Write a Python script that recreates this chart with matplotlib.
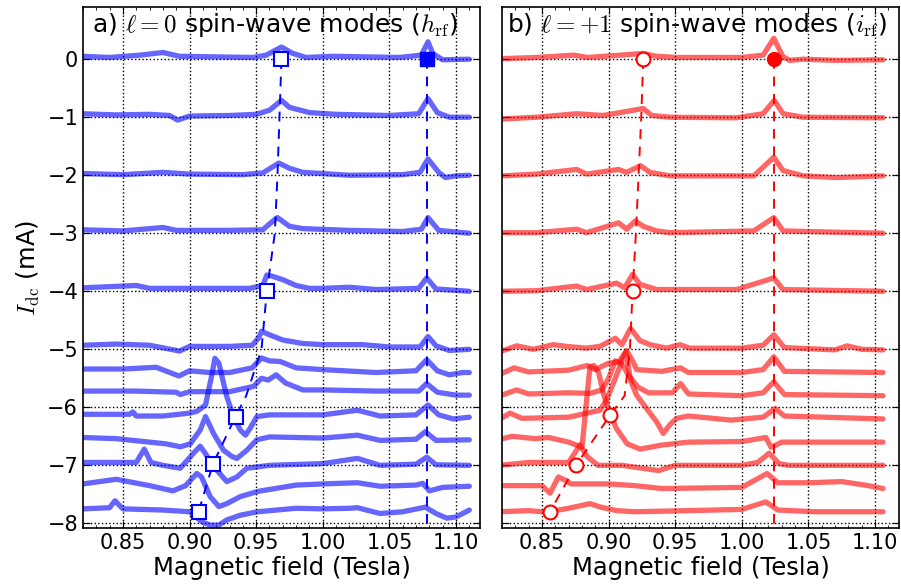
import matplotlib
matplotlib.use("Agg")
import matplotlib.pyplot as plt
from matplotlib.ticker import MultipleLocator

plt.rcParams['mathtext.fontset'] = 'cm'
plt.rcParams['font.family'] = 'DejaVu Sans'

# Idc offsets of the stacked traces (mA)
idc_levels = [0, -1, -2, -3, -4, -5, -5.4, -5.8, -6.2, -6.6, -7.0, -7.4, -7.8]

# panel a) l=0 modes: (field, signal) breakpoints, signal relative to Idc level
a_field = [
    [0.82, 0.84, 0.8625, 0.88, 0.8925, 0.92, 0.9475, 0.9575, 0.969, 0.9775, 0.9875, 1.0075, 1.0325, 1.0575, 1.074, 1.079, 1.0825, 1.09, 1.11],
    [0.82, 0.845, 0.87, 0.885, 0.891, 0.90, 0.93, 0.95, 0.96, 0.969, 0.975, 0.99, 1.01, 1.05, 1.072, 1.079, 1.086, 1.095, 1.11],
    [0.82, 0.85, 0.88, 0.90, 0.94, 0.955, 0.967, 0.975, 0.985, 1.02, 1.06, 1.073, 1.079, 1.087, 1.092, 1.10, 1.11],
    [0.82, 0.85, 0.88, 0.89, 0.93, 0.955, 0.962, 0.966, 0.975, 0.985, 1.02, 1.06, 1.074, 1.079, 1.087, 1.11],
    [0.82, 0.86, 0.87, 0.90, 0.945, 0.955, 0.958, 0.962, 0.97, 0.98, 0.99, 1.00, 1.02, 1.04, 1.072, 1.078, 1.085, 1.11],
    [0.82, 0.845, 0.87, 0.8925, 0.90, 0.93, 0.947, 0.952, 0.954, 0.96, 0.97, 0.985, 1.00, 1.03, 1.05, 1.073, 1.079, 1.085, 1.095, 1.11],
    [0.82, 0.85, 0.875, 0.892, 0.90, 0.915, 0.93, 0.947, 0.954, 0.96, 0.968, 0.98, 1.00, 1.04, 1.07, 1.078, 1.086, 1.095, 1.105, 1.11],
    [0.82, 0.86, 0.89, 0.893, 0.90, 0.93, 0.948, 0.954, 0.959, 0.965, 0.972, 0.985, 1.00, 1.04, 1.072, 1.078, 1.086, 1.10, 1.11],
    [0.82, 0.855, 0.8575, 0.86, 0.88, 0.90, 0.9055, 0.912, 0.917, 0.919, 0.922, 0.928, 0.933, 0.938, 0.942, 0.9455, 0.9505, 0.96, 1.00, 1.026, 1.043, 1.07, 1.079, 1.087, 1.098, 1.11],
    [0.82, 0.845, 0.8825, 0.893, 0.9005, 0.908, 0.912, 0.918, 0.9255, 0.932, 0.9355, 0.943, 0.9505, 0.96, 1.00, 1.026, 1.043, 1.07, 1.077, 1.085, 1.11],
    [0.82, 0.86, 0.866, 0.871, 0.88, 0.893, 0.903, 0.908, 0.912, 0.918, 0.928, 0.9355, 0.943, 0.96, 1.00, 1.026, 1.043, 1.07, 1.078, 1.085, 1.11],
    [0.82, 0.845, 0.87, 0.8875, 0.897, 0.9055, 0.909, 0.9155, 0.922, 0.928, 0.938, 0.951, 0.98, 1.00, 1.026, 1.043, 1.07, 1.075, 1.08, 1.09, 1.11],
    [0.82, 0.84, 0.844, 0.85, 0.88, 0.90, 0.909, 0.9155, 0.922, 0.928, 0.938, 0.951, 0.98, 1.00, 1.02, 1.026, 1.043, 1.06, 1.077, 1.085, 1.093, 1.10, 1.11],
]
a_signal = [
    [0.05, 0.03, 0.07, 0.115, 0.05, 0.04, 0.03, 0.07, 0.21, 0.10, 0.03, 0.05, 0.04, 0.03, 0.07, 0.30, 0.10, -0.01, 0.0],
    [0.06, 0.04, 0.05, 0.03, -0.05, 0.02, 0.03, 0.05, 0.12, 0.29, 0.17, 0.08, 0.05, 0.03, 0.06, 0.32, 0.08, 0.0, 0.0],
    [0.03, 0.01, 0.05, 0.02, 0.01, 0.04, 0.21, 0.12, 0.05, 0.0, 0.01, 0.05, 0.28, 0.05, -0.04, -0.01, 0.0],
    [0.06, 0.04, 0.10, 0.05, 0.05, 0.06, 0.20, 0.27, 0.12, 0.08, 0.05, 0.03, 0.07, 0.27, 0.05, 0.0],
    [0.06, 0.10, 0.05, 0.05, 0.05, 0.10, 0.28, 0.26, 0.20, 0.10, 0.05, 0.05, 0.07, 0.03, 0.05, 0.23, 0.04, 0.0],
    [0.07, 0.09, 0.07, -0.03, 0.05, 0.05, 0.07, 0.20, 0.31, 0.25, 0.16, 0.10, 0.08, 0.08, 0.04, 0.04, 0.22, 0.06, -0.02, 0.0],
    [0.06, 0.06, 0.09, -0.06, 0.03, 0.0, 0.0, 0.08, 0.25, 0.20, 0.19, 0.08, 0.05, 0.0, 0.03, 0.22, 0.03, -0.04, 0.0, 0.0],
    [0.08, 0.08, 0.06, 0.02, 0.07, 0.07, 0.16, 0.30, 0.27, 0.36, 0.22, 0.10, 0.10, 0.08, 0.08, 0.21, 0.06, 0.01, 0.01],
    [0.08, 0.08, 0.12, 0.05, 0.05, 0.10, 0.13, 0.24, 0.79, 1.045, 0.96, 0.38, 0.04, -0.19, -0.28, -0.16, 0.04, 0.07, 0.07, 0.15, 0.05, 0.07, 0.24, 0.07, 0.0, 0.03],
    [0.08, 0.06, -0.03, -0.08, -0.03, 0.21, 0.44, 0.15, -0.14, -0.25, -0.28, -0.14, 0.04, 0.09, 0.07, 0.12, 0.03, 0.05, 0.18, 0.03, 0.04],
    [0.05, 0.05, 0.28, 0.05, 0.0, -0.05, 0.21, 0.33, 0.20, -0.02, -0.28, -0.20, -0.05, 0.0, 0.03, 0.12, 0.0, 0.02, 0.14, 0.01, 0.0],
    [0.08, 0.16, 0.05, -0.04, 0.05, 0.26, 0.20, -0.14, -0.31, -0.26, -0.14, -0.05, 0.06, 0.08, 0.10, 0.04, 0.06, 0.09, -0.04, 0.02, 0.04],
    [0.05, 0.07, 0.19, 0.05, 0.03, 0.0, -0.17, -0.23, -0.23, -0.14, -0.06, 0.0, 0.06, 0.05, 0.06, 0.07, -0.03, 0.0, 0.08, -0.03, -0.11, -0.09, 0.03],
]

# panel b) l=+1 modes
b_field = [
    [0.821, 0.846, 0.874, 0.884, 0.909, 0.926, 0.936, 0.951, 1.0, 1.016, 1.024, 1.031, 1.036, 1.046, 1.071, 1.106],
    [0.821, 0.846, 0.876, 0.896, 0.911, 0.926, 0.9325, 0.946, 0.996, 1.016, 1.0243, 1.031, 1.046, 1.106],
    [0.821, 0.846, 0.876, 0.8835, 0.9075, 0.9135, 0.924, 0.931, 0.946, 1.009, 1.024, 1.031, 1.046, 1.071, 1.106],
    [0.821, 0.846, 0.876, 0.8835, 0.9075, 0.9135, 0.92, 0.926, 0.936, 0.946, 1.009, 1.024, 1.031, 1.106],
    [0.821, 0.846, 0.876, 0.8835, 0.906, 0.912, 0.918, 0.9235, 0.936, 0.996, 1.024, 1.031, 1.106],
    [0.8185, 0.831, 0.8435, 0.8585, 0.8685, 0.8835, 0.8935, 0.905, 0.91, 0.9165, 0.9235, 0.931, 0.9435, 0.9535, 0.961, 1.0, 1.016, 1.024, 1.032, 1.07, 1.079, 1.09, 1.106],
    [0.8185, 0.829, 0.84, 0.87, 0.884, 0.89, 0.90, 0.908, 0.9135, 0.918, 0.921, 0.94, 0.954, 0.96, 1.0, 1.016, 1.024, 1.032, 1.106],
    [0.8185, 0.831, 0.84, 0.87, 0.886, 0.895, 0.90, 0.905, 0.91, 0.915, 0.922, 0.93, 0.948, 0.954, 0.96, 1.0, 1.016, 1.024, 1.032, 1.106],
    [0.8185, 0.826, 0.835, 0.87, 0.8935, 0.8985, 0.905, 0.91, 0.913, 0.9165, 0.921, 0.9285, 0.936, 0.941, 0.946, 0.951, 0.96, 0.992, 1.016, 1.025, 1.032, 1.106],
    [0.8185, 0.8275, 0.845, 0.855, 0.87, 0.88, 0.886, 0.889, 0.8925, 0.8962, 0.901, 0.906, 0.914, 0.9237, 0.94, 0.96, 1.0, 1.018, 1.022, 1.03, 1.106],
    [0.8185, 0.84, 0.87, 0.8785, 0.884, 0.892, 0.91, 0.9375, 0.95, 1.0, 1.012, 1.0205, 1.028, 1.035, 1.106],
    [0.8185, 0.84, 0.85, 0.856, 0.8623, 0.867, 0.872, 0.89, 0.9, 0.92, 0.94, 1.0, 1.019, 1.027, 1.05, 1.075, 1.095, 1.106],
    [0.8185, 0.84, 0.85, 0.86, 0.87, 0.886, 0.894, 0.906, 0.92, 1.0, 1.018, 1.027, 1.055, 1.106],
]
b_signal = [
    [0.01, 0.03, 0.07, 0.03, 0.07, 0.10, 0.05, 0.03, 0.03, 0.07, 0.36, 0.04, -0.02, 0.0, -0.02, -0.01],
    [-0.03, 0.0, 0.06, 0.03, 0.09, 0.15, 0.03, 0.0, -0.01, 0.06, 0.29, 0.06, 0.0, -0.01],
    [-0.01, 0.02, 0.10, 0.02, 0.10, 0.05, 0.165, 0.05, -0.01, -0.01, 0.31, 0.08, -0.01, -0.04, -0.01],
    [0.01, 0.01, 0.07, 0.01, 0.18, 0.07, 0.21, 0.12, 0.04, 0.01, 0.04, 0.27, 0.04, 0.0],
    [0.0, 0.01, 0.09, 0.03, 0.14, 0.06, 0.29, 0.12, 0.03, 0.03, 0.23, 0.03, 0.0],
    [-0.04, 0.06, 0.0, 0.08, 0.05, 0.02, 0.05, 0.19, 0.08, 0.36, 0.15, 0.08, 0.02, 0.08, 0.02, 0.02, 0.07, 0.25, 0.03, -0.01, 0.06, 0.0, -0.01],
    [-0.03, 0.08, 0.01, 0.04, 0.12, 0.05, 0.16, 0.19, 0.38, 0.20, 0.05, 0.02, 0.08, 0.0, 0.0, 0.05, 0.27, 0.02, 0.0],
    [0.0, 0.10, 0.03, 0.05, 0.04, 0.10, 0.30, 0.60, 0.55, 0.35, 0.15, 0.05, 0.05, 0.21, 0.03, 0.0, 0.05, 0.24, 0.02, 0.0],
    [0.0, 0.10, 0.01, 0.03, 0.15, 0.33, 0.70, 1.00, 1.16, 0.66, 0.41, 0.18, -0.05, -0.25, -0.10, 0.01, 0.05, -0.02, 0.03, 0.18, 0.05, 0.0],
    [0.05, 0.10, 0.06, 0.08, 0.0, -0.09, 1.30, 1.32, 1.20, 0.83, 0.49, 0.23, -0.03, -0.12, -0.05, 0.0, 0.01, 0.08, -0.09, 0.0, 0.0],
    [0.0, 0.05, 0.05, 0.35, 0.15, 0.0, 0.0, -0.09, 0.0, 0.0, 0.05, 0.21, 0.03, 0.0, 0.0],
    [0.05, 0.05, 0.05, -0.08, 0.20, 0.15, 0.08, 0.08, 0.08, 0.05, 0.0, 0.02, 0.26, 0.10, 0.10, 0.12, 0.05, 0.0],
    [0.0, 0.02, 0.0, 0.02, 0.06, 0.14, 0.08, 0.02, 0.0, 0.04, 0.17, 0.03, 0.0, 0.0],
]

# mode positions (field, Idc) followed by the dashed guide lines
a_low_field = [0.969, 0.9675, 0.966, 0.964, 0.958, 0.954, 0.9425, 0.9345, 0.9175, 0.9068]
a_low_idc = [0.0, -1.0, -2.0, -3.0, -4.0, -5.0, -5.8, -6.16, -6.98, -7.8]
a_mark_field = [0.969, 0.958, 0.9345, 0.9175, 0.9068]
a_mark_idc = [0.0, -4.0, -6.16, -6.98, -7.8]
a_high_field = [1.078, 1.078]
a_high_idc = [0.0, -8.1]

b_low_field = [0.926, 0.9245, 0.9225, 0.9205, 0.918, 0.916, 0.914, 0.912, 0.901, 0.8755, 0.856]
b_low_idc = [0.0, -1.0, -2.0, -3.0, -4.0, -5.0, -5.4, -5.8, -6.14, -7.0, -7.8]
b_mark_field = [0.926, 0.918, 0.901, 0.8755, 0.856]
b_mark_idc = [0.0, -4.0, -6.14, -7.0, -7.8]
b_high_field = [1.024, 1.024]
b_high_idc = [0.0, -8.1]

xticks = [0.85, 0.90, 0.95, 1.00, 1.05, 1.10]
yticks = [0, -1, -2, -3, -4, -5, -6, -7, -8]

fig = plt.figure(figsize=(9.01, 5.87), dpi=100)
ax_a = fig.add_axes([0.0921, 0.1005, 0.4406, 0.8876])
ax_b = fig.add_axes([0.5572, 0.1005, 0.4406, 0.8876], sharey=ax_a)

panels = [
    (ax_a, a_field, a_signal, 'b', 's', a_low_field, a_low_idc, a_mark_field, a_mark_idc, a_high_field, a_high_idc,
     r'a) $\ell=0$ spin-wave modes ($h_{\rm rf}$)', 0.022),
    (ax_b, b_field, b_signal, 'r', 'o', b_low_field, b_low_idc, b_mark_field, b_mark_idc, b_high_field, b_high_idc,
     r'b) $\ell=+1$ spin-wave modes ($i_{\rm rf}$)', 0.012),
]

for (ax, fields, signals, color, marker, lf, li, mf, mi, hf, hi, title, tx) in panels:
    for level, xs, ys in zip(idc_levels, fields, signals):
        ax.plot(xs, [level + v for v in ys], color=color, alpha=0.6, lw=3.8,
                solid_joinstyle='round', solid_capstyle='round', zorder=2)
    ax.plot(lf, li, color=color, ls='--', lw=1.4, dashes=(5, 4), zorder=3)
    ax.plot(hf, hi, color=color, ls='--', lw=1.4, dashes=(5, 4), zorder=3)
    ax.plot(mf, mi, ls='none', marker=marker, ms=10, mfc='white', mec=color, mew=1.5, zorder=4)
    ax.plot(hf[:1], hi[:1], ls='none', marker=marker, ms=10, mfc=color, mec=color, zorder=4)

    ax.set_xlim(0.82, 1.118)
    ax.set_ylim(-8.08, 0.9)
    ax.set_xticks(xticks)
    ax.set_xticklabels([f'{t:.2f}' for t in xticks])
    ax.xaxis.set_minor_locator(MultipleLocator(0.01))
    ax.set_yticks(yticks)
    ax.grid(True, color='k', ls=':', lw=1.0)
    ax.tick_params(which='both', direction='in', top=True, right=True, labelsize=15)
    ax.tick_params(which='major', length=5)
    ax.tick_params(which='minor', length=2.5)
    for sp in ax.spines.values():
        sp.set_linewidth(1.2)
    ax.set_xlabel('Magnetic field (Tesla)', fontsize=17.5, labelpad=2)
    ax.text(tx, 0.952, title, transform=ax.transAxes, fontsize=18, ha='left', va='baseline')

ax_a.set_ylabel(r'$I_{\rm dc}$ (mA)', fontsize=17.5, labelpad=4)
ax_b.tick_params(labelleft=False)

fig.savefig('out.png', dpi=100, facecolor='white')
